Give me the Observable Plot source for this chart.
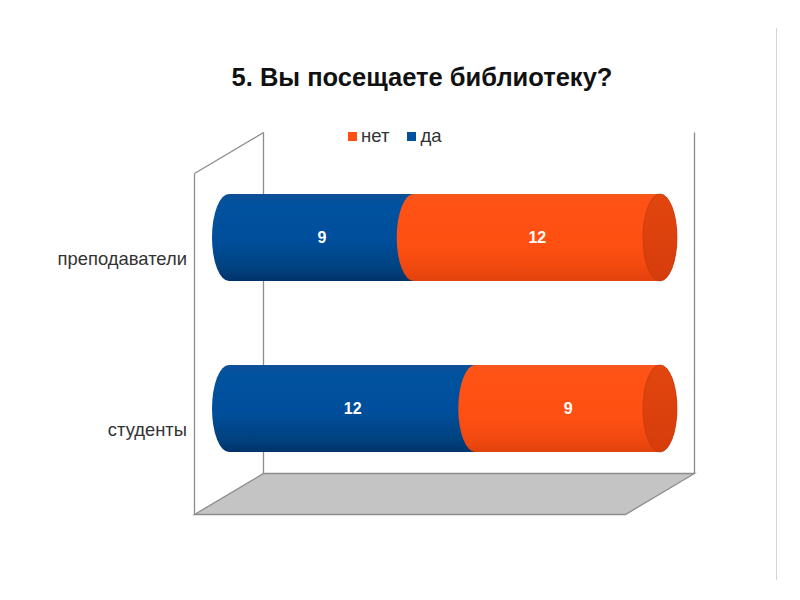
<!DOCTYPE html>
<html>
<head>
<meta charset="utf-8">
<script src="https://cdn.jsdelivr.net/npm/d3@7"></script>
<script src="https://cdn.jsdelivr.net/npm/@observablehq/plot@0.6"></script>
<style>
  body { margin: 0; background: #fff; font-family: "Liberation Sans", Arial, sans-serif; }
  #wrap { position: relative; width: 800px; height: 600px; overflow: hidden; }
  #chart { position: absolute; left: 0; top: 0; }
  #title { position: absolute; left: 122px; width: 600px; top: 62px; text-align: center;
           font-weight: bold; font-size: 25.5px; color: #111; line-height: 30px; }
  #legend { position: absolute; left: 348px; top: 125px; }
  .lg-swatches-wrap { min-height: 0 !important; margin: 0 !important; }
  .lg-swatches { margin: 0 !important; }
  .lg-swatch { margin-right: 18px !important; }
  .lg-swatch > svg { margin-right: 4px !important; }
  #slide-edge { position: absolute; left: 776px; top: 28px; width: 1px; height: 552px; background: #d4d4d4; }
</style>
</head>
<body>
<svg width="0" height="0" style="position:absolute">
  <defs>
    <linearGradient id="gBlue" x1="0" y1="0" x2="0" y2="1">
      <stop offset="0" stop-color="#0f4f96"/>
      <stop offset="0.12" stop-color="#00529f"/>
      <stop offset="0.55" stop-color="#004e9b"/>
      <stop offset="0.85" stop-color="#00427f"/>
      <stop offset="1" stop-color="#00336a"/>
    </linearGradient>
    <linearGradient id="gOrange" x1="0" y1="0" x2="0" y2="1">
      <stop offset="0" stop-color="#f8561c"/>
      <stop offset="0.12" stop-color="#ff5214"/>
      <stop offset="0.6" stop-color="#ff4f12"/>
      <stop offset="0.85" stop-color="#f0490f"/>
      <stop offset="1" stop-color="#e2420e"/>
    </linearGradient>
    <linearGradient id="gCap" x1="0" y1="0" x2="0" y2="1">
      <stop offset="0" stop-color="#e2460f"/>
      <stop offset="1" stop-color="#d63d0c"/>
    </linearGradient>
  </defs>
</svg>
<div id="wrap">
  <div id="chart"></div>
  <div id="title">5. Вы посещаете библиотеку?</div>
  <div id="legend"></div>
  <div id="slide-edge"></div>
</div>
<script>
// ---- data ----
const categories = ["преподаватели", "студенты"];
const seriesNames = ["нет", "да"];
const valuesNo = [12, 9];
const valuesYes = [9, 12];
const seriesColors = ["#ff4f12", "#00509e"];
const xMax = 21;

// ---- layout constants ----
const X_RANGE = [229, 660];
const Y_RANGE = [153, 494];
const DEPTH = [34.5, -20.5];   // half-depth offset towards back wall
const CAP_RX = 17;

const rows = [];
categories.forEach((c, i) => {
  const yes = valuesYes[i], no = valuesNo[i];
  rows.push({category: c, series: "да", value: yes, x1: 0, x2: yes});
  rows.push({category: c, series: "нет", value: no, x1: yes, x2: yes + no});
});
const totals = categories.map((c, i) => ({category: c, total: valuesYes[i] + valuesNo[i]}));
const labelRows = categories.map(c => ({category: c, x: 0}));

function frame(index, scales) {
  const x = scales && scales.x ? scales.x : d3.scaleLinear([0, xMax], X_RANGE);
  const xl = x(0), xr = x(xMax);
  const [yt, yb] = Y_RANGE;
  const [dx, dy] = DEPTH;
  const g = d3.create("svg:g").attr("fill", "none").attr("stroke", "#8c8c8c").attr("stroke-width", 1.3);
  g.append("polygon")
    .attr("points", [[xl + dx, yb + dy], [xr + dx, yb + dy], [xr - dx, yb - dy], [xl - dx, yb - dy]]
      .map(p => p.join(",")).join(" "))
    .attr("fill", "#c4c4c4");
  // back wall verticals
  g.append("line").attr("x1", xl + dx).attr("x2", xl + dx).attr("y1", yt + dy).attr("y2", yb + dy);
  g.append("line").attr("x1", xr + dx).attr("x2", xr + dx).attr("y1", yt + dy).attr("y2", yb + dy);
  // left wall
  g.append("line").attr("x1", xl - dx).attr("x2", xl - dx).attr("y1", yt - dy).attr("y2", yb - dy);
  g.append("line").attr("x1", xl - dx).attr("x2", xl + dx).attr("y1", yt - dy).attr("y2", yt + dy);
  return g.node();
}

const chart = Plot.plot({
  width: 800,
  height: 600,
  margin: 0,
  x: {domain: [0, xMax], range: X_RANGE, axis: null},
  y: {type: "band", domain: categories, range: Y_RANGE, paddingInner: 0.49, paddingOuter: 0.24, axis: null},
  style: {fontFamily: "'Liberation Sans', Arial, sans-serif", background: "transparent"},
  marks: [
    frame,
    Plot.barX(rows.filter(d => d.series === "да"), {
      x1: "x1", x2: "x2", y: "category", fill: "url(#gBlue)",
      insetLeft: -CAP_RX, insetRight: -CAP_RX, rx: CAP_RX, ry: 1000
    }),
    Plot.barX(rows.filter(d => d.series === "нет"), {
      x1: "x1", x2: "x2", y: "category", fill: "url(#gOrange)",
      insetLeft: -CAP_RX, insetRight: -CAP_RX, rx: CAP_RX, ry: 1000
    }),
    Plot.barX(totals, {
      x1: "total", x2: "total", y: "category", fill: "url(#gCap)",
      stroke: "#b8360c", strokeWidth: 0.6,
      insetLeft: -CAP_RX, insetRight: -CAP_RX, rx: CAP_RX, ry: 1000
    }),
    Plot.text(rows, {
      x: d => (d.x1 + d.x2) / 2, y: "category", text: d => String(d.value),
      fill: "white", fontWeight: "bold", fontSize: 16
    }),
    Plot.text(labelRows, {
      x: "x", y: "category", text: "category", textAnchor: "end",
      dx: -(DEPTH[0] + 8), dy: -DEPTH[1] + 1, fontSize: 18.4, fill: "#333"
    })
  ]
});
document.getElementById("chart").appendChild(chart);

const legend = Plot.legend({
  color: {type: "ordinal", domain: seriesNames, range: seriesColors},
  swatchSize: 9,
  className: "lg",
  style: {fontSize: "18.5px", fontFamily: "'Liberation Sans', Arial, sans-serif", color: "#333"}
});
document.getElementById("legend").appendChild(legend);
</script>
</body>
</html>
